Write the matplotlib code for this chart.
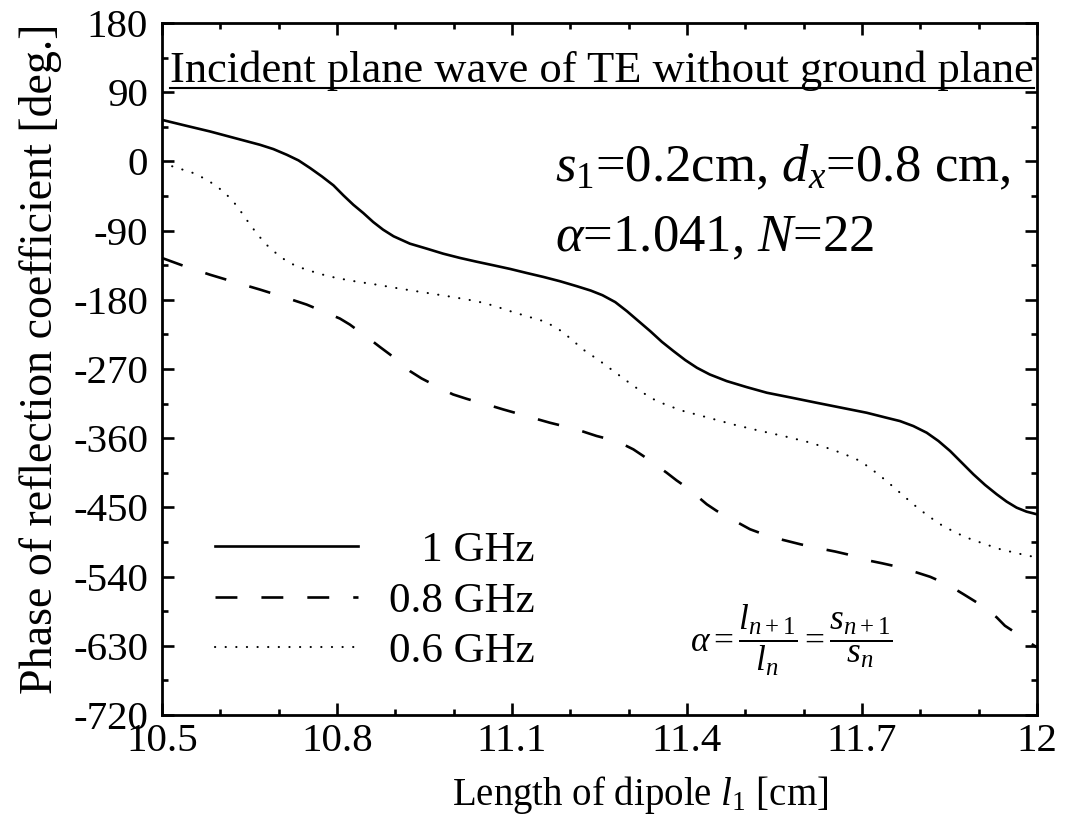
import matplotlib
matplotlib.use("Agg")
import matplotlib.pyplot as plt
from matplotlib.lines import Line2D
import numpy as np

plt.rcParams['font.family'] = 'serif'
plt.rcParams['font.serif'] = ['Liberation Serif', 'DejaVu Serif']
plt.rcParams['mathtext.fontset'] = 'custom'
plt.rcParams['mathtext.rm'] = 'Liberation Serif'
plt.rcParams['mathtext.it'] = 'Liberation Serif:italic'
plt.rcParams['mathtext.bf'] = 'Liberation Serif:bold'
plt.rcParams['axes.unicode_minus'] = False

# ---- data ----
x_1ghz = [10.5, 10.539, 10.582, 10.625, 10.668, 10.691, 10.714, 10.734, 10.754, 10.774,
          10.794, 10.811, 10.828, 10.845, 10.862, 10.879, 10.897, 10.925, 10.954, 10.982,
          11.011, 11.039, 11.068, 11.097, 11.125, 11.154, 11.182, 11.211, 11.235, 11.255,
          11.277, 11.297, 11.317, 11.337, 11.357, 11.377, 11.397, 11.417, 11.439, 11.468, 11.502,
          11.537, 11.580, 11.622, 11.665, 11.708, 11.742, 11.765, 11.788, 11.811, 11.831,
          11.851, 11.871, 11.891, 11.911, 11.931, 11.948, 11.965, 11.982, 12.0]
y_1ghz = [54.0, 46.8, 39.0, 30.3, 21.6, 16.0, 8.6, 1.3, -8.7, -19.5,
          -31.2, -44.2, -56.4, -67.1, -78.8, -88.8, -97.4, -107.0, -113.5, -120.0,
          -125.6, -130.4, -135.1, -139.9, -145.1, -150.3, -155.8, -162.3, -168.0, -174.0,
          -183.0, -194.8, -207.8, -220.8, -234.7, -246.8, -258.4, -268.4, -277.1, -285.7, -293.5,
          -300.9, -307.4, -313.9, -320.4, -326.9, -333.4, -337.7, -344.2, -352.9, -363.6,
          -376.6, -391.8, -407.0, -420.8, -433.0, -442.5, -450.3, -455.5, -459.0]

x_08ghz = [10.5, 10.539, 10.582, 10.625, 10.668, 10.708, 10.748, 10.782, 10.805, 10.822,
           10.839, 10.857, 10.874, 10.891, 10.908, 10.925, 10.945, 10.965, 10.982, 10.999,
           11.022, 11.045, 11.068, 11.085, 11.105, 11.125, 11.145, 11.165, 11.188, 11.211,
           11.228, 11.245, 11.268, 11.291, 11.308, 11.325, 11.345, 11.365, 11.382, 11.400,
           11.417, 11.434, 11.451, 11.468, 11.488, 11.508, 11.528, 11.548, 11.571, 11.594,
           11.614, 11.634, 11.654, 11.674, 11.694, 11.714, 11.734, 11.754, 11.774, 11.794,
           11.817, 11.839, 11.857, 11.874, 11.894, 11.914, 11.931, 11.945, 11.965, 11.982,
           12.0]
y_08ghz = [-125.6, -136.4, -147.3, -157.1, -166.7, -176.2, -186.2, -197.0, -204.4, -212.2,
           -221.7, -231.7, -241.6, -251.2, -261.9, -272.7, -282.3, -290.1, -297.0, -303.1,
           -308.7, -313.9, -318.7, -322.6, -326.9, -331.2, -335.6, -339.9, -344.2, -348.6,
           -352.9, -357.1, -361.6, -368.1, -374.5, -383.1, -394.0, -404.8, -414.8, -424.3,
           -435.1, -446.0, -454.6, -461.0, -470.1, -478.4, -484.0, -489.2, -493.5, -497.9,
           -501.3, -504.4, -507.4, -510.9, -515.2, -519.5, -522.6, -526.0, -530.4, -534.7,
           -540.3, -547.7, -555.1, -562.9, -572.3, -582.3, -593.1, -603.9, -613.9, -623.4,
           -632.1]

x_06ghz = [10.5, 10.531, 10.554, 10.577, 10.594, 10.608, 10.622, 10.637, 10.651, 10.665,
           10.679, 10.697, 10.714, 10.731, 10.748, 10.771, 10.799, 10.834, 10.868, 10.908,
           10.954, 10.997, 11.039, 11.068, 11.097, 11.125, 11.154, 11.177, 11.199, 11.222,
           11.251, 11.274, 11.297, 11.317, 11.337, 11.365, 11.394, 11.437, 11.479, 11.522,
           11.565, 11.605, 11.639, 11.668, 11.697, 11.719, 11.742, 11.765, 11.788, 11.811,
           11.834, 11.857, 11.879, 11.908, 11.937, 11.968, 12.0]
y_06ghz = [-2.2, -9.6, -15.2, -23.9, -32.5, -41.2, -51.9, -67.1, -82.3, -96.1,
           -108.3, -120.4, -129.9, -136.4, -140.8, -146.4, -151.6, -156.4, -160.3, -165.5,
           -171.0, -176.2, -181.8, -187.5, -194.8, -201.3, -207.8, -216.5, -229.5, -244.7,
           -259.7, -272.7, -285.7, -296.6, -307.4, -316.9, -324.7, -333.4, -342.1, -349.9,
           -357.1, -364.5, -372.3, -380.1, -389.6, -401.8, -415.6, -430.8, -446.0, -459.7,
           -471.9, -481.4, -489.2, -497.0, -504.4, -510.0, -515.2]

labels = ['   1 GHz', '0.8 GHz', '0.6 GHz']
xticks = [10.5, 10.8, 11.1, 11.4, 11.7, 12]
xticklabels = ['10.5', '10.8', '11.1', '11.4', '11.7', '12']
yticks = [180, 90, 0, -90, -180, -270, -360, -450, -540, -630, -720]

# ---- figure ----
fig = plt.figure(figsize=(10.67, 8.16), dpi=100)
ax = fig.add_axes([162/1067, 1 - 715/816, 875/1067, 692/816])

lw = 1.9
ax.plot(x_1ghz, y_1ghz, color='black', lw=lw, ls='-', label=labels[0])
ax.plot(x_08ghz, y_08ghz, color='black', lw=lw, ls=(0, (8.3, 9.1)), label=labels[1])
ax.plot(x_06ghz, y_06ghz, color='black', lw=1.5, ls=(0, (0.1, 5.0)),
        dash_capstyle='round', label=labels[2])

ax.set_xlim(10.5, 12)
ax.set_ylim(-720, 180)
ax.set_xticks(xticks)
ax.set_xticklabels(xticklabels)
ax.set_yticks(yticks)
ax.set_yticklabels([str(v) for v in yticks])
ax.set_xticks(np.arange(10.5, 12.001, 0.1), minor=True)
ax.set_yticks(np.arange(-720, 181, 45), minor=True)

fs = 29.5
ax.tick_params(which='both', direction='in', top=True, right=True, width=1.9,
               labelsize=fs)
ax.tick_params(which='major', length=8.5)
ax.tick_params(which='minor', length=4.3)
ax.tick_params(axis='x', pad=6)
ax.tick_params(axis='y', pad=10)
for s in ax.spines.values():
    s.set_linewidth(2.0)

ax.set_xlabel(r'Length of dipole $l_1$ [cm]', fontsize=28)
ax.xaxis.set_label_coords(0.547, -0.085)
ax.set_ylabel('Phase of reflection coefficient [deg.]', fontsize=33)
ax.yaxis.set_label_coords(-0.114, 0.514)

# title inside, underlined
tx, ty = 0.503, 0.915
t = ax.text(tx, ty, 'Incident plane wave of TE without ground plane',
            transform=ax.transAxes, ha='center', va='baseline', fontsize=32)

ax.text(0.449, 0.771, r'$s_1$=0.2cm, $d_x$=0.8 cm,', transform=ax.transAxes,
        ha='left', va='baseline', fontsize=38)
ax.text(0.449, 0.670, r'$\alpha$=1.041, $N$=22', transform=ax.transAxes,
        ha='left', va='baseline', fontsize=38)

ax.text(0.603, 0.108, r'$\alpha = \dfrac{l_{n+1}}{l_n} = \dfrac{s_{n+1}}{s_n}$',
        transform=ax.transAxes, ha='left', va='center', fontsize=25.5)

leg = ax.legend(loc='lower left', bbox_to_anchor=(0.041, 0.038), frameon=False,
                fontsize=31, handlelength=3.33, handletextpad=0.7,
                labelspacing=0.27, borderaxespad=0)

fig.canvas.draw()
bb = t.get_window_extent()
base_y = ax.transAxes.transform((tx, ty))[1] - 6
inv = fig.transFigure.inverted()
(x0, y0), (x1, y1) = inv.transform([[bb.x0, base_y], [bb.x1, base_y]])
fig.add_artist(Line2D([x0, x1], [y0, y1], color='black', lw=1.5,
                      transform=fig.transFigure))

fig.savefig('out.png', dpi=100)
